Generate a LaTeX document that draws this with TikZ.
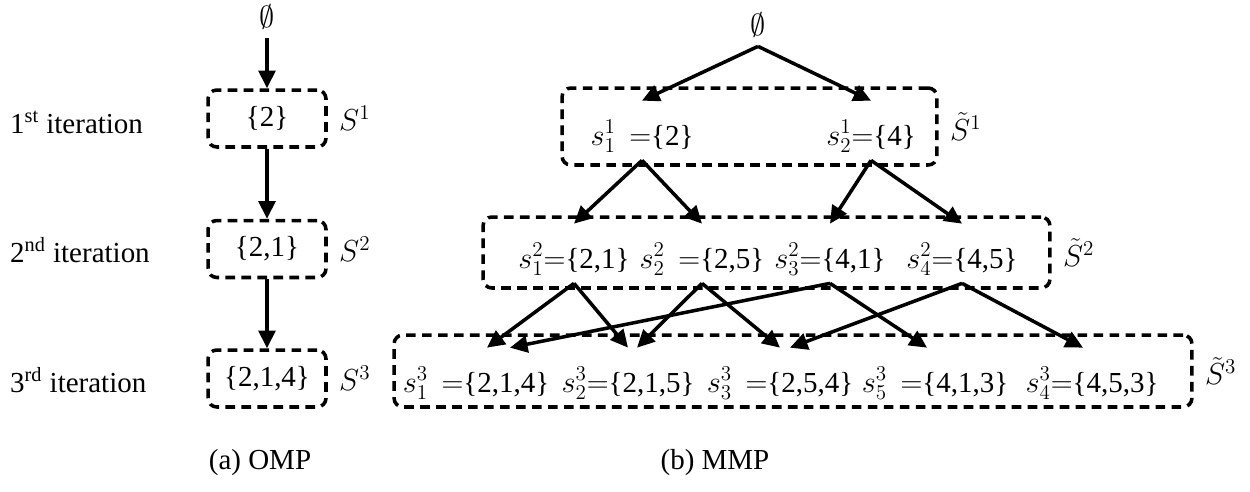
\documentclass[tikz,border=0pt]{standalone}
\usepackage{amsmath}
\usepackage{fontspec}
\setmainfont{Liberation Serif}
\usetikzlibrary{arrows.meta,positioning}

\begin{document}
\begin{tikzpicture}[x=0.02cm, y=-0.02cm,
	every node/.style={font=\fontsize{16.5}{20}\selectfont},
	grp/.style={draw, line width=2pt, dash pattern=on 5.5pt off 3.6pt, rounded corners=5pt, inner sep=0pt},
	setnode/.style={inner sep=0pt, text height=0.88cm, text depth=0.3cm, anchor=base},
	arr/.style={line width=2pt, -{Triangle[length=10pt,width=9.5pt]}}]
	\useasboundingbox (0,0) rectangle (1250,491);
	
	\node[anchor=west] (it1) at (4,122) {1\textsuperscript{st} iteration};
	\node[anchor=west] (it2) at (4,250) {2\textsuperscript{nd} iteration};
	\node[anchor=west] (it3) at (4,380) {3\textsuperscript{rd} iteration};
	
	% OMP
	\node[inner sep=1pt] (o0) at (267,17) {$\emptyset$};
	\node[grp, minimum width=2.36cm, minimum height=1.14cm] (ob1) at (267,118.5) {\{2\}};
	\node[grp, minimum width=2.36cm, minimum height=1.14cm] (ob2) at (267,249) {\{2,1\}};
	\node[grp, minimum width=2.36cm, minimum height=1.14cm] (ob3) at (267,378.5) {\{2,1,4\}};
	\node[right=3pt of ob1] (os1) {$S^1$};
	\node[right=3pt of ob2] (os2) {$S^2$};
	\node[right=3pt of ob3] (os3) {$S^3$};
	
	\draw[arr] ([yshift=-4pt]o0.south) -- (ob1.north);
	\draw[arr] (ob1.south) -- (ob2.north);
	\draw[arr] (ob2.south) -- (ob3.north);
	
	% MMP
	\node[inner sep=1pt] (m0) at (758,25) {$\emptyset$};
	\node[grp, minimum width=7.5cm, minimum height=1.54cm] (mb1) at (749.5,126.5) {};
	\node[grp, minimum width=11.34cm, minimum height=1.42cm] (mb2) at (766.5,252.5) {};
	\node[grp, minimum width=15.96cm, minimum height=1.44cm] (mb3) at (793,371) {};
	\node[right=3pt of mb1] (ms1) {$\tilde{S}^1$};
	\node[right=3pt of mb2] (ms2) {$\tilde{S}^2$};
	\node[right=3pt of mb3] (ms3) {$\tilde{S}^3$};
	
	\node[setnode] (m11) at (642,145) {$s_1^1\,=$\{2\}};
	\node[setnode] (m12) at (871,145) {$s_2^1{=}$\{4\}};
	
	\node[setnode] (m21) at (574,268) {$s_1^2{=}$\{2,1\}};
	\node[setnode] (m22) at (702,268) {$s_2^2\,=$\{2,5\}};
	\node[setnode] (m23) at (830,268) {$s_3^2{=}$\{4,1\}};
	\node[setnode] (m24) at (962,268) {$s_4^2{=}$\{4,5\}};
	
	\node[setnode] (m31) at (476,392) {$s_1^3\,=$\{2,1,4\}};
	\node[setnode] (m32) at (628,392) {$s_2^3{=}$\{2,1,5\}};
	\node[setnode] (m33) at (780,392) {$s_3^3\,=$\{2,5,4\}};
	\node[setnode] (m34) at (935,392) {$s_5^3\,=$\{4,1,3\}};
	\node[setnode] (m35) at (1092,392) {$s_4^3{=}$\{4,5,3\}};
	
	\draw[arr] ([yshift=-4pt]m0.south) -- (m11.north);
	\draw[arr] ([yshift=-4pt]m0.south) -- (m12.north);
	
	\draw[arr] (m11.south) -- (m21.north);
	\draw[arr] (m11.south) -- (m22.north);
	\draw[arr] (m12.south) -- (m23.north);
	\draw[arr] (m12.south) -- (m24.north);
	
	\draw[arr] (m21.south) -- ([xshift=0.22cm]m31.north);
	\draw[arr] (m21.south) -- (m32.north);
	\draw[arr] (m22.south) -- ([xshift=0.18cm]m32.north);
	\draw[arr] (m22.south) -- (m33.north);
	\draw[arr] (m23.south) -- ([xshift=0.68cm]m31.north);
	\draw[arr] (m23.south) -- ([xshift=-0.16cm]m34.north);
	\draw[arr] (m24.south) -- ([xshift=0.2cm]m33.north);
	\draw[arr] (m24.south) -- ([xshift=-0.18cm]m35.north);
	
	\node (capa) at (260,463) {(a) OMP};
	\node (capb) at (715,463) {(b) MMP};
\end{tikzpicture}
\end{document}
